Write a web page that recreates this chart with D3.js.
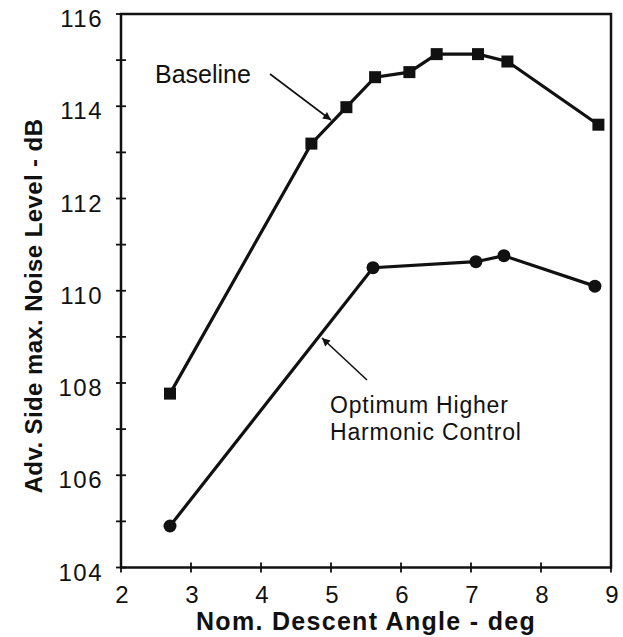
<!DOCTYPE html>
<html><head><meta charset="utf-8">
<script src="https://cdn.jsdelivr.net/npm/d3@7"></script>
<style>body{margin:0;background:#fff}svg{display:block}text{font-family:"Liberation Sans",Arial,sans-serif;fill:#111}</style>
</head><body><svg id="c" width="623" height="637"></svg>
<script>
const baselineX = [2.7, 4.72, 5.22, 5.63, 6.12, 6.51, 7.1, 7.52, 8.82];
const baselineY = [107.77, 113.19, 113.98, 114.63, 114.74, 115.13, 115.13, 114.97, 113.6];
const hhcX = [2.7, 5.6, 7.07, 7.47, 8.77];
const hhcY = [104.9, 110.5, 110.63, 110.76, 110.1];
const xTicks = [2, 3, 4, 5, 6, 7, 8, 9];
const yTicks = [104, 105, 106, 107, 108, 109, 110, 111, 112, 113, 114, 115, 116];
const yLabels = [104, 106, 108, 110, 112, 114, 116];
const xTitle = "Nom. Descent Angle - deg";
const yTitle = "Adv. Side max. Noise Level - dB";
const labelBaseline = "Baseline";
const labelHHC = ["Optimum Higher", "Harmonic Control"];

const svg = d3.select("#c");
const L = 121, R = 611, T = 14, B = 567.5;
const x = d3.scaleLinear().domain([2, 9]).range([L, R]);
const y = d3.scaleLinear().domain([104, 116]).range([B, T]);

svg.append("defs").append("marker").attr("id","ah").attr("viewBox","0 0 10 10")
  .attr("refX",10).attr("refY",5).attr("markerWidth",11).attr("markerHeight",8)
  .attr("markerUnits","userSpaceOnUse").attr("orient","auto")
  .append("path").attr("d","M0,0 L10,5 L0,10 z").attr("fill","#111");

// frame
svg.append("rect").attr("x",L).attr("y",T).attr("width",R-L).attr("height",B-T)
  .attr("fill","none").attr("stroke","#111").attr("stroke-width",2.5);

// y ticks (crossing)
svg.append("g").selectAll("line").data(yTicks).join("line")
  .attr("x1",L-5).attr("x2",L+5).attr("y1",d=>y(d)).attr("y2",d=>y(d))
  .attr("stroke","#111").attr("stroke-width",1.8);
svg.append("g").selectAll("text").data(yLabels).join("text")
  .attr("x",L-18).attr("y",d=>y(d)+13).attr("text-anchor","end")
  .attr("font-size",24).attr("letter-spacing",1.5).text(d=>d);
// x ticks
svg.append("g").selectAll("line").data(xTicks).join("line")
  .attr("y1",B-5).attr("y2",B+5).attr("x1",d=>x(d)).attr("x2",d=>x(d))
  .attr("stroke","#111").attr("stroke-width",1.8);
svg.append("g").selectAll("text").data(xTicks).join("text")
  .attr("x",d=>x(d)+1).attr("y",603).attr("text-anchor","middle")
  .attr("font-size",24).text(d=>d);

// titles
svg.append("text").attr("x",366).attr("y",630).attr("text-anchor","middle")
  .attr("font-size",25).attr("letter-spacing",1.3).attr("font-weight","bold").text(xTitle);
svg.append("text").attr("transform",`translate(42,306) rotate(-90)`)
  .attr("text-anchor","middle").attr("font-size",24).attr("letter-spacing",0.4).attr("font-weight","bold").text(yTitle);

const line = d3.line().x(d=>x(d[0])).y(d=>y(d[1]));
const bData = baselineX.map((v,i)=>[v, baselineY[i]]);
const hData = hhcX.map((v,i)=>[v, hhcY[i]]);
svg.append("path").datum(bData).attr("d",line).attr("fill","none").attr("stroke","#111").attr("stroke-width",3.2);
svg.append("path").datum(hData).attr("d",line).attr("fill","none").attr("stroke","#111").attr("stroke-width",3.2);
svg.append("g").selectAll("rect").data(bData).join("rect")
  .attr("x",d=>x(d[0])-6).attr("y",d=>y(d[1])-6).attr("width",12).attr("height",12).attr("fill","#111");
svg.append("g").selectAll("circle").data(hData).join("circle")
  .attr("cx",d=>x(d[0])).attr("cy",d=>y(d[1])).attr("r",6.5).attr("fill","#111");

// annotations
svg.append("text").attr("x",155).attr("y",83).attr("font-size",25).text(labelBaseline);
svg.append("line").attr("x1",270).attr("y1",74).attr("x2",331).attr("y2",120)
  .attr("stroke","#111").attr("stroke-width",1.6).attr("marker-end","url(#ah)");
svg.append("text").attr("x",330).attr("y",413).attr("font-size",23).attr("letter-spacing",0.8).text(labelHHC[0]);
svg.append("text").attr("x",330).attr("y",440).attr("font-size",23).attr("letter-spacing",0.8).text(labelHHC[1]);
svg.append("line").attr("x1",367).attr("y1",380).attr("x2",322).attr("y2",338)
  .attr("stroke","#111").attr("stroke-width",1.6).attr("marker-end","url(#ah)");
</script></body></html>
